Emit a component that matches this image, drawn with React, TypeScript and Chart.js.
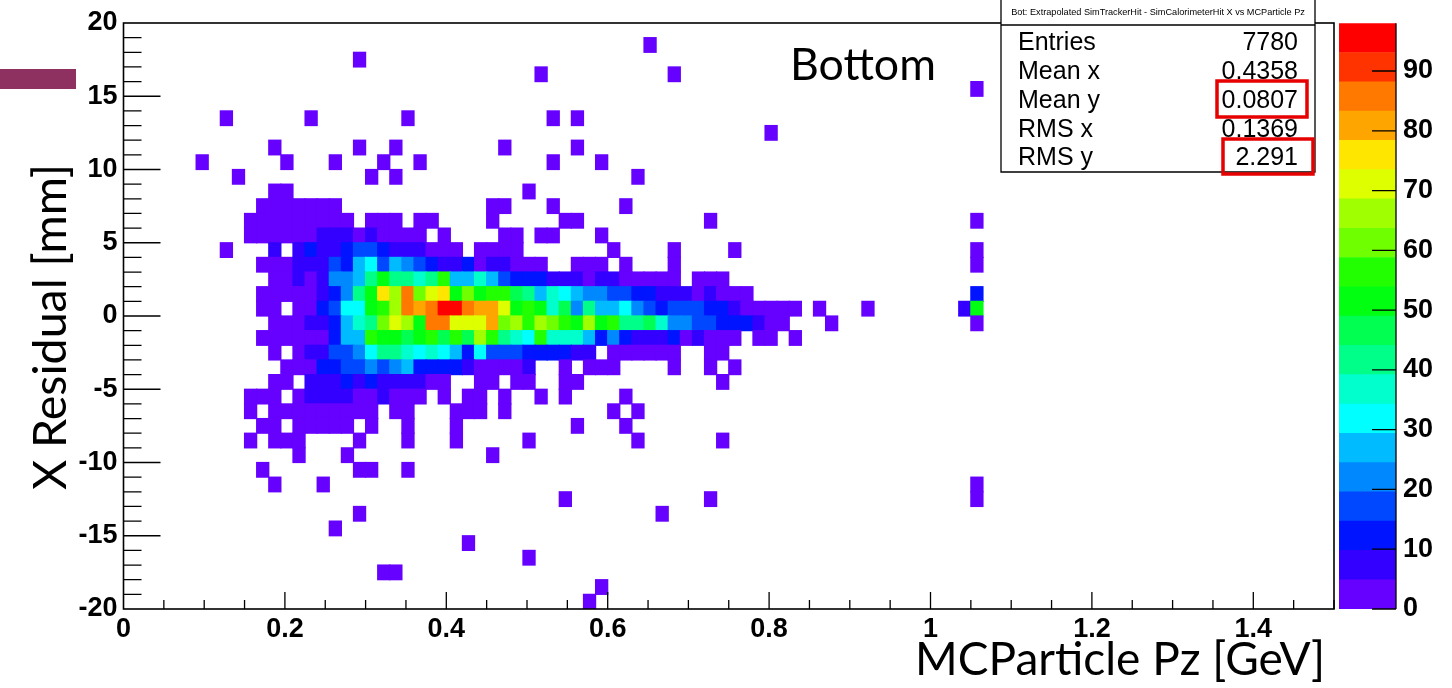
import React, { useEffect, useRef } from "react";
import { Chart, registerables } from "chart.js";

Chart.register(...registerables);

// ---------- data ----------
const X_MIN = 0;
const X_MAX = 1.5;
const X_BINS = 100;
const Y_MIN = -20;
const Y_MAX = 20;
const Y_BINS = 40;
const Z_MAX = 98;

const X_TICK_LABELS = [0, 0.2, 0.4, 0.6, 0.8, 1, 1.2, 1.4];
const Y_TICK_LABELS = [-20, -15, -10, -5, 0, 5, 10, 15, 20];
const Z_TICK_LABELS = [0, 10, 20, 30, 40, 50, 60, 70, 80, 90];
const X_MINOR_STEP = 0.05;
const Y_MINOR_STEP = 1;

// 20 colour levels of the z palette (low -> high)
const PALETTE = [
  "#6600ff", "#3300ff", "#0014ff", "#0048ff", "#0088ff",
  "#00bbff", "#00ffff", "#00ffcc", "#00ff88", "#00ff50",
  "#00ff10", "#22ff00", "#70ff00", "#a0ff00", "#ddff00",
  "#ffe600", "#ffa500", "#ff7800", "#ff3300", "#ff0000",
];

// Bin contents, as colour level (1..9, a..k = 10..20).
// One entry per y bin, top row (19..20 mm) first; each run = [first x bin, levels].
const ROW_RUNS: [number, string][][] = [
  [],
  [[43, "1"]],
  [[19, "1"]],
  [[34, "1"], [45, "1"]],
  [[70, "1"]],
  [],
  [[8, "1"], [15, "1"], [23, "1"], [35, "1"], [37, "1"]],
  [[53, "1"]],
  [[12, "1"], [19, "1"], [22, "1"], [31, "1"], [37, "1"]],
  [[6, "1"], [13, "1"], [17, "1"], [21, "1"], [24, "1"], [35, "1"], [39, "1"]],
  [[9, "1"], [20, "1"], [22, "1"], [42, "1"]],
  [[12, "11"], [33, "1"]],
  [[11, "1111111"], [30, "11"], [35, "1"], [41, "1"]],
  [[10, "111111111"], [20, "111"], [24, "11"], [30, "1"], [36, "11"], [48, "1"], [70, "1"]],
  [[10, "111111222121111"], [26, "1"], [31, "11"], [34, "11"], [39, "1"]],
  [[8, "1"], [12, "2.23223443222111.1111"], [40, "1"], [45, "1"], [50, "1"], [70, "1"]],
  [[11, "111222436746543223122111..111.1"], [45, "1"], [70, "1"]],
  [[12, "112125569b9989c6686433322212211111.111"]],
  [[11, "111112359bgeidfgbdbcca9687655443322212111"], [70, "3"]],
  [[11, "11.113477bceihikkihhfbcb8a5966754344433211111.1"], [61, "1"], [69, "2b"]],
  [[12, "111223689dfebiifffhdecedcbebc99a85544333211"], [58, "1"], [70, "1"]],
  [[11, "111111366cbbabcacaec987c8886353222312111.11.1"]],
  [[12, "1.1224457998787637444333322.111111..11"]],
  [[13, "111334454563333211112..1.111"], [45, "1"], [48, "1"], [50, "1"]],
  [[12, "11.222323222211..11.11..11"], [49, "1"]],
  [[10, "111.12222112111.1.11.1..1.1"], [41, "1"]],
  [[10, "1.111111111.11...111.1"], [40, "1"], [42, "1"]],
  [[11, "11.11111.1..1"], [27, "1"], [37, "1"], [41, "1"]],
  [[10, "1.111"], [19, "1"], [23, "1"], [27, "1"], [33, "1"], [42, "1"], [49, "1"]],
  [[14, "1"], [18, "1"], [30, "1"]],
  [[11, "1"], [19, "11"], [23, "1"]],
  [[12, "1"], [16, "1"], [70, "1"]],
  [[36, "1"], [48, "1"], [70, "1"]],
  [[19, "1"], [44, "1"]],
  [[17, "1"]],
  [[28, "1"]],
  [[33, "1"]],
  [[21, "11"]],
  [[39, "1"]],
  [[38, "1"]],
];

const STATS_TITLE = "Bot: Extrapolated SimTrackerHit - SimCalorimeterHit X vs MCParticle Pz";
const STATS_LABELS = ["Entries", "Mean x", "Mean y", "RMS x", "RMS y"];
const STATS_VALUES = ["7780", "0.4358", "0.0807", "0.1369", "2.291"];
const HIGHLIGHTED_ROWS = [2, 4];
const X_TITLE = "MCParticle Pz [GeV]";
const Y_TITLE = "X Residual [mm]";
const PLOT_LABEL = "Bottom";

// ---------- derived cells ----------
const DX = (X_MAX - X_MIN) / X_BINS;
const DY = (Y_MAX - Y_MIN) / Y_BINS;
const LEVEL = Z_MAX / PALETTE.length;

type Cell = { x: number; y: number; v: number };
const CELLS: Cell[] = [];
ROW_RUNS.forEach((runs, r) => {
  runs.forEach(([start, s]) => {
    for (let k = 0; k < s.length; k++) {
      const ch = s[k];
      if (ch === ".") continue;
      const band = parseInt(ch, 36);
      CELLS.push({
        x: X_MIN + (start + k + 0.5) * DX,
        y: Y_MAX - (r + 0.5) * DY,
        v: (band - 0.5) * LEVEL,
      });
    }
  });
});

const colorFor = (v: number) =>
  PALETTE[Math.max(0, Math.min(PALETTE.length - 1, Math.floor(v / LEVEL)))];

const FONT_TICK = "'Liberation Sans', Arial, Helvetica, sans-serif";
const FONT_TITLE = "Lato, 'Open Sans', sans-serif";

function fitSize(ctx: CanvasRenderingContext2D, text: string, family: string, width: number, weight = "normal") {
  ctx.font = `${weight} 100px ${family}`;
  return (100 * width) / ctx.measureText(text).width;
}

const heatmapPlugin = {
  id: "heatmap",
  beforeDatasetsDraw(chart: any) {
    const { ctx, chartArea: a, scales } = chart;
    const xs = scales.x;
    const ys = scales.y;
    ctx.save();
    ctx.beginPath();
    ctx.rect(a.left, a.top, a.right - a.left, a.bottom - a.top);
    ctx.clip();
    const data: Cell[] = chart.data.datasets[0].data;
    for (const c of data) {
      const px0 = xs.getPixelForValue(c.x - DX / 2);
      const px1 = xs.getPixelForValue(c.x + DX / 2);
      const py0 = ys.getPixelForValue(c.y + DY / 2);
      const py1 = ys.getPixelForValue(c.y - DY / 2);
      ctx.fillStyle = colorFor(c.v);
      ctx.fillRect(px0 - 0.6, py0 - 0.6, px1 - px0 + 1.2, py1 - py0 + 1.2);
    }
    ctx.restore();
  },
};

const decorPlugin = {
  id: "decor",
  afterDraw(chart: any) {
    const { ctx, chartArea: a, scales } = chart;
    const xs = scales.x;
    const ys = scales.y;
    ctx.save();
    // frame
    ctx.strokeStyle = "#000";
    ctx.lineWidth = 1.6;
    ctx.strokeRect(a.left, a.top, a.right - a.left, a.bottom - a.top);
    // x ticks (inside, bottom)
    ctx.lineWidth = 1.3;
    ctx.beginPath();
    const nx = Math.round((X_MAX - X_MIN) / X_MINOR_STEP);
    for (let i = 1; i <= nx; i++) {
      const v = X_MIN + i * X_MINOR_STEP;
      const px = xs.getPixelForValue(v);
      const major = X_TICK_LABELS.some((t) => Math.abs(t - v) < 1e-9);
      const len = major ? 17 : 9;
      ctx.moveTo(px, a.bottom);
      ctx.lineTo(px, a.bottom - len);
    }
    // y ticks (inside, left)
    const ny = Math.round((Y_MAX - Y_MIN) / Y_MINOR_STEP);
    for (let i = 1; i < ny; i++) {
      const v = Y_MIN + i * Y_MINOR_STEP;
      const py = ys.getPixelForValue(v);
      const major = Y_TICK_LABELS.includes(v);
      const len = major ? 37 : 18;
      ctx.moveTo(a.left, py);
      ctx.lineTo(a.left + len, py);
    }
    ctx.stroke();

    // maroon bar at left
    ctx.fillStyle = "#8e3060";
    ctx.fillRect(0, 69, 76, 20);

    // stats box
    const bx0 = 1001, bx1 = 1315, by1 = 172;
    ctx.fillStyle = "#fff";
    ctx.fillRect(bx0, 0, bx1 - bx0, by1);
    ctx.strokeStyle = "#000";
    ctx.lineWidth = 1.3;
    ctx.beginPath();
    ctx.moveTo(bx0, 0);
    ctx.lineTo(bx0, by1);
    ctx.lineTo(bx1, by1);
    ctx.lineTo(bx1, 0);
    ctx.moveTo(bx0, 25);
    ctx.lineTo(bx1, 25);
    ctx.stroke();
    ctx.fillStyle = "#000";
    const ts = fitSize(ctx, STATS_TITLE, FONT_TICK, 294);
    ctx.font = `${ts}px ${FONT_TICK}`;
    ctx.textAlign = "center";
    ctx.textBaseline = "alphabetic";
    ctx.fillText(STATS_TITLE, (bx0 + bx1) / 2, 15);
    ctx.font = `25px ${FONT_TICK}`;
    const baselines = [50, 79, 108, 136.5, 165];
    STATS_LABELS.forEach((lab, i) => {
      ctx.textAlign = "left";
      ctx.fillText(lab, 1018, baselines[i]);
      ctx.textAlign = "right";
      ctx.fillText(STATS_VALUES[i], 1298, baselines[i]);
    });
    // highlight boxes
    ctx.strokeStyle = "#e60000";
    ctx.lineWidth = 3.5;
    const boxes = [
      [1217, 81, 90, 36],
      [1223, 139, 90, 35],
    ];
    HIGHLIGHTED_ROWS.forEach((_, i) => {
      const [x, y, w, h] = boxes[i];
      ctx.strokeRect(x, y, w, h);
    });

    // "Bottom"
    ctx.fillStyle = "#000";
    ctx.textAlign = "left";
    const bs = fitSize(ctx, PLOT_LABEL, FONT_TITLE, 146);
    ctx.font = `${bs}px ${FONT_TITLE}`;
    ctx.fillText(PLOT_LABEL, 790, 80);

    // x title
    const xs2 = fitSize(ctx, X_TITLE, FONT_TITLE, 410);
    ctx.font = `${xs2}px ${FONT_TITLE}`;
    ctx.textAlign = "right";
    ctx.fillText(X_TITLE, 1325, 675);

    // y title
    const ys2 = fitSize(ctx, Y_TITLE, FONT_TITLE, 326);
    ctx.font = `${ys2}px ${FONT_TITLE}`;
    ctx.translate(66, 490);
    ctx.rotate(-Math.PI / 2);
    ctx.textAlign = "left";
    ctx.fillText(Y_TITLE, 0, 0);
    ctx.restore();
  },
};

const colorbarPlugin = {
  id: "cbdecor",
  afterDraw(chart: any) {
    const { ctx, chartArea: a, scales } = chart;
    const zs = scales.y;
    ctx.save();
    ctx.strokeStyle = "#000";
    ctx.lineWidth = 1.3;
    ctx.beginPath();
    ctx.moveTo(a.right, a.top);
    ctx.lineTo(a.right, a.bottom);
    for (const t of Z_TICK_LABELS) {
      const py = zs.getPixelForValue(t);
      ctx.moveTo(a.right - 24, py);
      ctx.lineTo(a.right, py);
    }
    ctx.stroke();
    ctx.restore();
  },
};

export default function App() {
  const mainRef = useRef<HTMLCanvasElement>(null);
  const barRef = useRef<HTMLCanvasElement>(null);

  useEffect(() => {
    if (!mainRef.current || !barRef.current) return;
    const tickFont = { family: FONT_TICK, size: 27, weight: "bold" as const };

    const main = new Chart(mainRef.current, {
      type: "scatter",
      data: {
        datasets: [
          {
            data: CELLS as any,
            pointRadius: 0,
            pointHoverRadius: 0,
            showLine: false,
          },
        ],
      },
      options: {
        responsive: false,
        animation: false,
        events: [],
        layout: { padding: { left: 0, right: 118, top: 23, bottom: 0 } },
        plugins: { legend: { display: false }, tooltip: { enabled: false } },
        scales: {
          x: {
            type: "linear",
            min: X_MIN,
            max: X_MAX,
            afterBuildTicks: (s: any) => {
              s.ticks = X_TICK_LABELS.map((value) => ({ value }));
            },
            afterFit: (s: any) => {
              s.height = 79;
            },
            ticks: {
              font: tickFont,
              color: "#000",
              padding: 4,
              maxRotation: 0,
              autoSkip: false,
              callback: (v: any) => String(v),
            },
            grid: { display: false, drawTicks: false },
            border: { display: false },
          },
          y: {
            type: "linear",
            min: Y_MIN,
            max: Y_MAX,
            afterBuildTicks: (s: any) => {
              s.ticks = Y_TICK_LABELS.map((value) => ({ value }));
            },
            afterFit: (s: any) => {
              s.width = 123.5;
            },
            ticks: {
              font: tickFont,
              color: "#000",
              padding: 6,
              autoSkip: false,
              callback: (v: any) => String(v),
            },
            grid: { display: false, drawTicks: false },
            border: { display: false },
          },
        },
      },
      plugins: [heatmapPlugin, decorPlugin],
    });

    const bar = new Chart(barRef.current, {
      type: "bar",
      data: {
        labels: [""],
        datasets: PALETTE.map((c) => ({
          data: [LEVEL],
          backgroundColor: c,
          borderWidth: 0,
          barPercentage: 1,
          categoryPercentage: 1,
        })),
      },
      options: {
        responsive: false,
        animation: false,
        events: [],
        layout: { padding: { left: 39, right: 0, top: 23, bottom: 79 } },
        plugins: { legend: { display: false }, tooltip: { enabled: false } },
        scales: {
          x: { stacked: true, display: false },
          y: {
            stacked: true,
            position: "right",
            min: 0,
            max: Z_MAX,
            afterBuildTicks: (s: any) => {
              s.ticks = Z_TICK_LABELS.map((value) => ({ value }));
            },
            afterFit: (s: any) => {
              s.width = 56;
            },
            ticks: { font: tickFont, color: "#000", padding: 7, autoSkip: false },
            grid: { display: false, drawTicks: false },
            border: { display: false },
          },
        },
      },
      plugins: [colorbarPlugin],
    });

    return () => {
      main.destroy();
      bar.destroy();
    };
  }, []);

  return (
    <div style={{ position: "absolute", left: 0, top: 0, width: 1452, height: 688, background: "#fff" }}>
      <canvas
        ref={mainRef}
        width={1452}
        height={688}
        style={{ position: "absolute", left: 0, top: 0, width: 1452, height: 688 }}
      />
      <canvas
        ref={barRef}
        width={152}
        height={688}
        style={{ position: "absolute", left: 1300, top: 0, width: 152, height: 688 }}
      />
    </div>
  );
}
